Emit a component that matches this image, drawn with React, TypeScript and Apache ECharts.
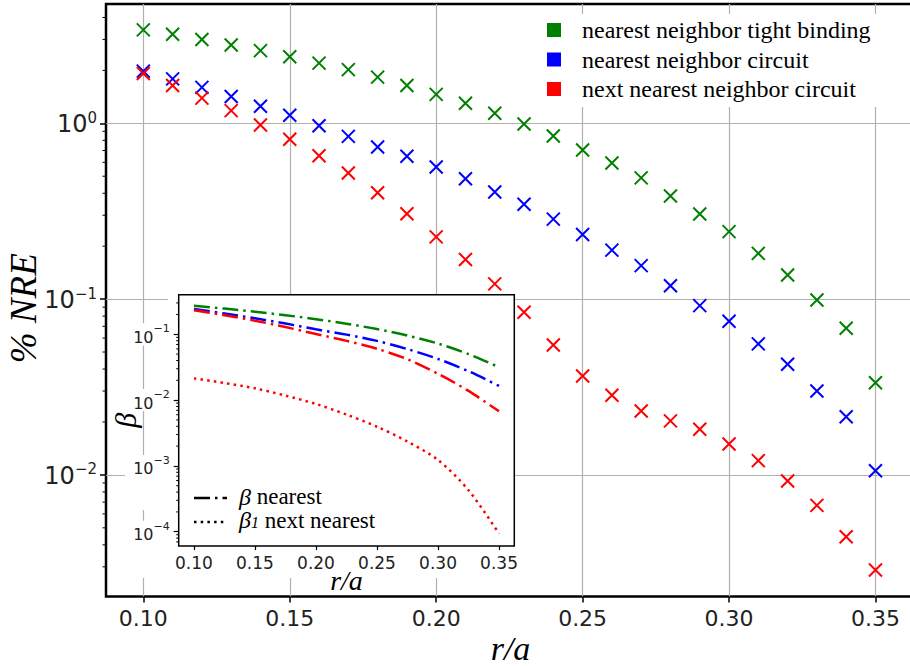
import React, { useEffect, useRef } from 'react';
import * as echarts from 'echarts';

// ---- data ----
const rOverA = [0.10, 0.11, 0.12, 0.13, 0.14, 0.15, 0.16, 0.17, 0.18, 0.19, 0.20, 0.21, 0.22, 0.23, 0.24, 0.25, 0.26, 0.27, 0.28, 0.29, 0.30, 0.31, 0.32, 0.33, 0.34, 0.35];
const nreTightBinding = [3.40, 3.21, 3.00, 2.79, 2.59, 2.39, 2.20, 2.02, 1.83, 1.64, 1.46, 1.30, 1.14, 0.99, 0.847, 0.705, 0.594, 0.489, 0.386, 0.305, 0.242, 0.182, 0.137, 0.0988, 0.0682, 0.0334];
const nreNNCircuit = [1.98, 1.79, 1.60, 1.42, 1.25, 1.11, 0.969, 0.843, 0.733, 0.649, 0.564, 0.484, 0.407, 0.346, 0.285, 0.233, 0.190, 0.155, 0.119, 0.0918, 0.0748, 0.0556, 0.0426, 0.0300, 0.0214, 0.01056];
const nreNNNCircuit = [1.92, 1.64, 1.39, 1.18, 0.978, 0.811, 0.654, 0.521, 0.403, 0.306, 0.226, 0.168, 0.122, 0.0841, 0.0548, 0.0365, 0.0284, 0.0231, 0.0203, 0.0182, 0.0150, 0.01205, 0.00923, 0.00671, 0.00445, 0.00288];

const betaR = [0.10, 0.125, 0.15, 0.175, 0.20, 0.225, 0.25, 0.275, 0.30, 0.325, 0.35];
const betaTightBinding = [0.272, 0.246, 0.220, 0.195, 0.170, 0.145, 0.120, 0.0955, 0.0724, 0.0501, 0.0316];
const betaNNCircuit = [0.243, 0.207, 0.175, 0.146, 0.119, 0.0989, 0.0794, 0.0596, 0.0422, 0.0275, 0.0164];
const betaNNNCircuit = [0.232, 0.195, 0.161, 0.129, 0.101, 0.0794, 0.0603, 0.0417, 0.0251, 0.0138, 0.00676];
const beta1NNNCircuit = [0.0214, 0.0182, 0.0151, 0.0117, 0.00873, 0.00603, 0.00394, 0.00234, 0.00123, 0.000427, 0.0000933];

const seriesNames = ['nearest neighbor tight binding', 'nearest neighbor circuit', 'next nearest neighbor circuit'];
const seriesColors = ['#008000', '#0000ff', '#ff0000'];
const xTickValues = [0.10, 0.15, 0.20, 0.25, 0.30, 0.35];
const mainDecades = [-2, -1, 0];
const insetDecades = [-4, -3, -2, -1];
const insetLegendLabels = ['nearest', 'next nearest'];

// ---- axis ranges ----
const X_MIN = 0.08725, X_MAX = 0.3635, Y_MIN = -2.6917, Y_MAX = 0.6786;
const IX_MIN = 0.0875, IX_MAX = 0.3625, IY_MIN = -4.217, IY_MAX = -0.398;

const SANS = 'DejaVu Sans';
const SERIF = 'Liberation Serif';

const isTick = (v: number, step: number) => Math.abs(v / step - Math.round(v / step)) < 1e-6;
const supLabel = (v: number) => {
  const r = Math.round(v);
  if (Math.abs(v - r) > 1e-6) return '';
  return `{b|10}{s|${r === 0 ? '0' : '\u2212' + -r}}`;
};

const minorTicks = (lo: number, hi: number) => {
  const out: number[] = [];
  for (let n = Math.floor(lo) - 1; n <= Math.ceil(hi); n++) {
    for (let k = 2; k <= 9; k++) {
      const v = Math.log10(k) + n;
      if (v > lo && v < hi) out.push(v);
    }
  }
  return out;
};

const toLog = (xs: number[], ys: number[]) => xs.map((x, i) => [x, Math.log10(ys[i])]);

export default function App() {
  const ref = useRef<HTMLDivElement>(null);
  useEffect(() => {
    if (!ref.current) return;
    const chart = echarts.init(ref.current, null, { renderer: 'svg' });

    const minorSeries = (xIdx: number, xmin: number, lo: number, hi: number, len: number, z: number) => ({
      type: 'custom',
      xAxisIndex: xIdx,
      yAxisIndex: xIdx,
      silent: true,
      clip: false,
      z,
      data: minorTicks(lo, hi).map((v) => [xmin, v]),
      encode: { x: 0, y: 1 },
      renderItem: (_p: any, api: any) => {
        const pt = api.coord([xmin, api.value(1)]);
        return {
          type: 'line',
          shape: { x1: pt[0] - len, y1: pt[1], x2: pt[0], y2: pt[1] },
          style: { stroke: '#000', lineWidth: 1 },
        };
      },
    });

    const scatter = (i: number, ys: number[]) => ({
      name: seriesNames[i],
      type: 'scatter',
      xAxisIndex: 0,
      yAxisIndex: 0,
      symbol: 'path://M0 0L10 10M10 0L0 10',
      symbolSize: 13,
      itemStyle: { color: seriesColors[i], borderColor: seriesColors[i], borderWidth: 2, opacity: 1 },
      data: toLog(rOverA, ys),
      z: 2,
    });

    const insetLine = (color: string, ys: number[], dash: number[]) => ({
      type: 'line',
      xAxisIndex: 1,
      yAxisIndex: 1,
      showSymbol: false,
      symbol: 'none',
      smooth: 0.3,
      silent: true,
      z: 10,
      lineStyle: { color, width: 2.5, type: dash, cap: 'butt', opacity: 1 },
      data: toLog(betaR, ys),
    });

    const dashDot = [16, 5, 2.5, 5];
    const dotted = [2.5, 4.2];

    chart.setOption({
      animation: false,
      backgroundColor: '#fff',
      grid: [
        { left: 106, top: 4, right: -5, bottom: 69.5, outerBoundsMode: 'none', containLabel: false, show: true, borderColor: '#000', borderWidth: 2.5, backgroundColor: 'transparent', z: 0 },
        { left: 178.7, top: 294.7, right: 395.7, bottom: 120, outerBoundsMode: 'none', containLabel: false, show: true, borderColor: '#000', borderWidth: 1.5, backgroundColor: '#fff', z: 8 },
      ],
      legend: {
        data: seriesNames,
        orient: 'vertical',
        left: 537,
        top: 14,
        padding: [4, 30, 6, 10],
        itemWidth: 14,
        itemHeight: 14,
        itemGap: 5.5,
        icon: 'rect',
        backgroundColor: '#fff',
        itemStyle: { borderWidth: 0, opacity: 1 },
        textStyle: { fontFamily: SERIF, fontSize: 24, color: '#000', lineHeight: 24, padding: [0, 0, 0, 16] },
        z: 6,
      },
      xAxis: [
        {
          type: 'value', gridIndex: 0, min: X_MIN, max: X_MAX, minInterval: 0.05, maxInterval: 0.05, splitNumber: 5,
          axisLine: { show: false, onZero: false },
          axisTick: { show: true, inside: false, length: 6, lineStyle: { color: '#000', width: 1.5 }, customValues: xTickValues },
          axisLabel: { margin: 11, fontFamily: SANS, fontSize: 22, color: '#222', formatter: (v: number) => (isTick(v, 0.05) ? v.toFixed(2) : '') },
          splitLine: { show: true, lineStyle: { color: '#b0b0b0', width: 1.2 } },
          name: 'r/a', nameLocation: 'middle', nameGap: 35, nameMoveOverlap: false,
          nameTextStyle: { fontFamily: SERIF, fontStyle: 'italic', fontSize: 34, color: '#000', lineHeight: 34 },
          z: 1,
        },
        {
          type: 'value', gridIndex: 1, min: IX_MIN, max: IX_MAX, minInterval: 0.05, maxInterval: 0.05, splitNumber: 5,
          axisLine: { show: false, onZero: false },
          axisTick: { show: true, inside: false, length: 4, lineStyle: { color: '#000', width: 1.2 }, customValues: xTickValues },
          axisLabel: { customValues: xTickValues, margin: 8, fontFamily: SANS, fontSize: 17, color: '#222', formatter: (v: number) => (isTick(v, 0.05) ? v.toFixed(2) : '') },
          splitLine: { show: false },
          name: 'r/a', nameLocation: 'middle', nameGap: 20, nameMoveOverlap: false,
          nameTextStyle: { fontFamily: SERIF, fontStyle: 'italic', fontSize: 28, color: '#000', lineHeight: 28 },
          z: 9,
        },
      ],
      yAxis: [
        {
          type: 'value', gridIndex: 0, min: Y_MIN, max: Y_MAX, minInterval: 1, maxInterval: 1, splitNumber: 3,
          axisLine: { show: false, onZero: false },
          axisTick: { show: true, inside: false, length: 6, lineStyle: { color: '#000', width: 1.5 }, customValues: mainDecades },
          axisLabel: {
            customValues: mainDecades, margin: 9, formatter: supLabel,
            rich: {
              b: { fontFamily: SANS, fontSize: 24, color: '#222', lineHeight: 26, verticalAlign: 'bottom' },
              s: { fontFamily: SANS, fontSize: 15, color: '#222', lineHeight: 15, verticalAlign: 'top' },
            },
          },
          splitLine: { show: true, lineStyle: { color: '#b0b0b0', width: 1.2 } },
          name: '% NRE', nameLocation: 'middle', nameGap: 64, nameRotate: 90, nameMoveOverlap: false,
          nameTextStyle: { fontFamily: SERIF, fontStyle: 'italic', fontSize: 37, color: '#000', lineHeight: 37, padding: [0, 16, 0, 0] },
          z: 1,
        },
        {
          type: 'value', gridIndex: 1, min: IY_MIN, max: IY_MAX, minInterval: 1, maxInterval: 1, splitNumber: 4,
          axisLine: { show: false, onZero: false },
          axisTick: { show: true, inside: false, length: 5, lineStyle: { color: '#000', width: 1.2 }, customValues: insetDecades },
          axisLabel: {
            customValues: insetDecades, margin: 9, formatter: supLabel,
            backgroundColor: '#fff',
            rich: {
              b: { fontFamily: SANS, fontSize: 16, color: '#222', lineHeight: 22, verticalAlign: 'bottom', backgroundColor: '#fff' },
              s: { fontFamily: SANS, fontSize: 11, color: '#222', lineHeight: 11, verticalAlign: 'top', backgroundColor: '#fff' },
            },
          },
          splitLine: { show: false },
          name: '\u03b2', nameLocation: 'middle', nameGap: 38, nameRotate: 90, nameMoveOverlap: false,
          nameTextStyle: { fontFamily: SERIF, fontStyle: 'italic', fontSize: 30, color: '#000', lineHeight: 30 },
          z: 9,
        },
      ],
      graphic: [
        { type: 'rect', z: 7, silent: true, shape: { x: 168, y: 294, width: 347, height: 284 }, style: { fill: '#fff' } },
        { type: 'rect', z: 7, silent: true, shape: { x: 125, y: 455, width: 54, height: 55 }, style: { fill: '#fff' } },
        { type: 'rect', z: 7, silent: true, shape: { x: 125, y: 533, width: 54, height: 45 }, style: { fill: '#fff' } },
        { type: 'line', z: 11, silent: true, shape: { x1: 194, y1: 498, x2: 227, y2: 498 }, style: { stroke: '#000', lineWidth: 2.5, lineDash: dashDot } },
        { type: 'line', z: 11, silent: true, shape: { x1: 194, y1: 522, x2: 227, y2: 522 }, style: { stroke: '#000', lineWidth: 2.5, lineDash: dotted } },
        {
          type: 'text', z: 11, silent: true, x: 239, y: 496.5,
          style: {
            text: `{i|\u03b2} ${insetLegendLabels[0]}`, fill: '#000', fontFamily: SERIF, fontSize: 23, verticalAlign: 'middle', lineHeight: 21,
            rich: { i: { fontFamily: SERIF, fontStyle: 'italic', fontSize: 24, lineHeight: 21 } },
          },
        },
        {
          type: 'text', z: 11, silent: true, x: 239, y: 520,
          style: {
            text: `{i|\u03b2}{sub|1} ${insetLegendLabels[1]}`, fill: '#000', fontFamily: SERIF, fontSize: 23, verticalAlign: 'middle', lineHeight: 21,
            rich: {
              i: { fontFamily: SERIF, fontStyle: 'italic', fontSize: 24, lineHeight: 21 },
              sub: { fontFamily: SERIF, fontStyle: 'italic', fontSize: 16, lineHeight: 14, verticalAlign: 'bottom' },
            },
          },
        },
      ],
      series: [
        scatter(0, nreTightBinding),
        scatter(1, nreNNCircuit),
        scatter(2, nreNNNCircuit),
        minorSeries(0, X_MIN, Y_MIN, Y_MAX, 3.5, 3),
        insetLine(seriesColors[0], betaTightBinding, dashDot),
        insetLine(seriesColors[1], betaNNCircuit, dashDot),
        insetLine(seriesColors[2], betaNNNCircuit, dashDot),
        insetLine(seriesColors[2], beta1NNNCircuit, dotted),
        minorSeries(1, IX_MIN, IY_MIN, IY_MAX, 2.5, 10),
      ],
    });
    return () => chart.dispose();
  }, []);
  return <div ref={ref} style={{ position: 'fixed', left: 0, top: 0, width: 910, height: 666 }} />;
}
